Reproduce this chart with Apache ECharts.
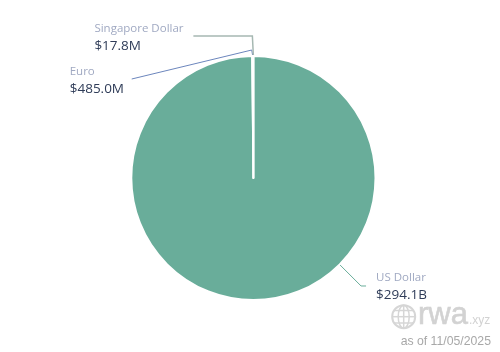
<!DOCTYPE html>
<html>
<head>
<meta charset="utf-8">
<title>Stablecoin currency</title>
<script src="https://cdn.jsdelivr.net/npm/echarts@6/dist/echarts.min.js"></script>
<style>
html, body { margin: 0; padding: 0; background: #fff; }
#chart { width: 500px; height: 352px; }
</style>
</head>
<body>
<div id="chart"></div>
<script>
// values in $M
var categories = ['US Dollar', 'Euro', 'Singapore Dollar'];
var seriesValues = [294100, 485, 17.8];
var valueLabels = ['$294.1B', '$485.0M', '$17.8M'];
var sliceColors = ['#69ad9a', '#6c86bd', '#a6b8b2'];
var lineWidths = [1, 1, 1.5];

var pieData = categories.map(function(name, i) {
	return {
		name: name,
		value: seriesValues[i],
		itemStyle: { color: sliceColors[i] },
		labelLine: { lineStyle: { color: sliceColors[i], width: lineWidths[i] } }
	};
});

// label box left/top and leader line points, relative to where the line leaves the slice
var labelPlace = [
	{ dx: 122, dy: -30, line: [[86, -35], [107, -14], [112, -14]] },
	{ dx: -183, dy: 8, line: [[0, 0], [-1, -6], [-121, 23]] },
	{ dx: -159, dy: -35, line: [[0, 0], [-1, -20], [-60, -20]] }
];

var option = {
	animation: false,
	backgroundColor: '#fff',
	series: [{
		type: 'pie',
		center: [253.4, 178],
		radius: [0, 122],
		startAngle: 90,
		avoidLabelOverlap: false,
		itemStyle: { borderColor: '#fff', borderWidth: 1.8 },
		label: {
			show: true,
			align: 'left',
			formatter: function(p) {
				return '{n|' + p.name + '}\n{v|' + valueLabels[p.dataIndex] + '}';
			},
			rich: {
				n: { fontFamily: 'Open Sans', fontSize: 11.5, color: '#a0a9c2', lineHeight: 16 },
				v: { fontFamily: 'Open Sans', fontSize: 13.5, color: '#2f3c58', lineHeight: 18 }
			}
		},
		labelLine: { show: true, length: 10, length2: 10, lineStyle: { width: 1 } },
		labelLayout: function(p) {
			var place = labelPlace[p.dataIndex];
			var start = p.labelLinePoints[0];
			return {
				x: start[0] + place.dx,
				y: start[1] + place.dy,
				align: 'left',
				verticalAlign: 'top',
				labelLinePoints: place.line.map(function(d) {
					return [start[0] + d[0], start[1] + d[1]];
				})
			};
		},
		data: pieData
	}],
	graphic: [
		{ type: 'circle', shape: { cx: 403.7, cy: 316.7, r: 11.5 }, style: { fill: 'none', stroke: '#d6d6d6', lineWidth: 2 } },
		{ type: 'ellipse', shape: { cx: 403.7, cy: 316.7, rx: 5.5, ry: 11.5 }, style: { fill: 'none', stroke: '#d6d6d6', lineWidth: 1.5 } },
		{ type: 'line', shape: { x1: 403.7, y1: 305, x2: 403.7, y2: 328 }, style: { stroke: '#d6d6d6', lineWidth: 1.5 } },
		{ type: 'line', shape: { x1: 392, y1: 316.7, x2: 415, y2: 316.7 }, style: { stroke: '#d6d6d6', lineWidth: 1.5 } },
		{ type: 'line', shape: { x1: 394, y1: 310.5, x2: 413, y2: 310.5 }, style: { stroke: '#d6d6d6', lineWidth: 1.5 } },
		{ type: 'line', shape: { x1: 394, y1: 323, x2: 413, y2: 323 }, style: { stroke: '#d6d6d6', lineWidth: 1.5 } },
		{ type: 'text', x: 418, y: 331, style: { text: 'rwa', fontFamily: 'Liberation Sans', fontSize: 31, fill: '#d2d2d2', stroke: '#d2d2d2', lineWidth: 0.6, verticalAlign: 'bottom' } },
		{ type: 'text', x: 469, y: 327, style: { text: '.xyz', fontFamily: 'Liberation Sans', fontSize: 12, fill: '#d2d2d2', verticalAlign: 'bottom' } },
		{ type: 'text', x: 491, y: 348, style: { text: 'as of 11/05/2025', fontFamily: 'Liberation Sans', fontSize: 12.25, fill: '#a8a8a8', align: 'right', verticalAlign: 'bottom' } }
	]
};

var chart = echarts.init(document.getElementById('chart'), null, { renderer: 'canvas' });
chart.setOption(option);
</script>
</body>
</html>
